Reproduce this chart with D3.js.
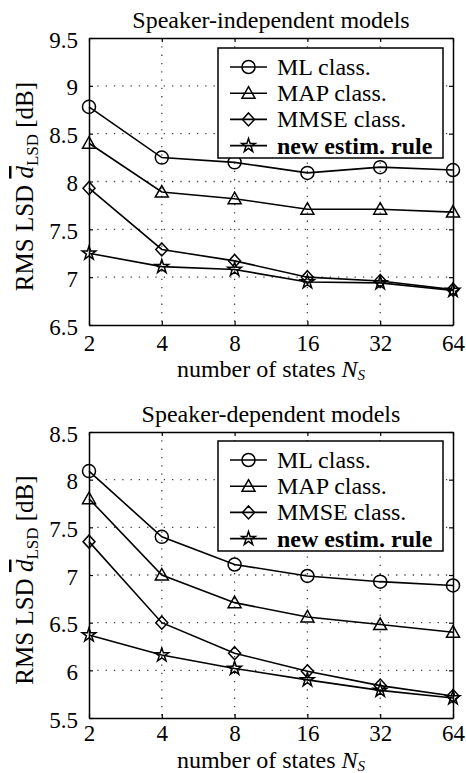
<html>
<head>
    <style>
        body { margin: 0; background: #fff; }
        text { font-family: "Liberation Serif", "Times New Roman", serif; fill: #000; }
    </style>
</head>
<body>
    <svg id="chart" width="466" height="773"></svg>

    <script src="https://d3js.org/d3.v7.min.js"></script>
    <script type="text/javascript">
        // number of states on the x axis (log2 spaced)
        const states = [2, 4, 8, 16, 32, 64];

        // speaker-independent models
        const indepML = [8.78, 8.25, 8.20, 8.09, 8.15, 8.12];
        const indepMAP = [8.40, 7.89, 7.82, 7.71, 7.71, 7.68];
        const indepMMSE = [7.93, 7.29, 7.17, 7.00, 6.96, 6.87];
        const indepNew = [7.25, 7.11, 7.08, 6.95, 6.94, 6.86];

        // speaker-dependent models
        const depML = [8.09, 7.40, 7.11, 6.99, 6.93, 6.89];
        const depMAP = [7.80, 7.00, 6.71, 6.56, 6.48, 6.40];
        const depMMSE = [7.35, 6.50, 6.18, 5.99, 5.84, 5.73];
        const depNew = [6.37, 6.16, 6.02, 5.90, 5.79, 5.71];

        const indepTicks = [6.5, 7, 7.5, 8, 8.5, 9, 9.5];
        const depTicks = [5.5, 6, 6.5, 7, 7.5, 8, 8.5];

        const seriesNames = ['ML class.', 'MAP class.', 'MMSE class.', 'new estim. rule'];
        const markerKinds = ['circle', 'triangle', 'diamond', 'star'];

        const svg = d3.select('#chart');

        // marker shapes, centred on 0,0
        function markerPath(kind) {
            if (kind === 'circle') return d3.symbol(d3.symbolCircle, 133)();
            if (kind === 'star') return d3.symbol(d3.symbolStar, 58)();
            if (kind === 'triangle') return 'M0,-6.5L6.5,5L-6.5,5Z';
            return 'M0,-6.5L6,0L0,6.5L-6,0Z';
        }

        function drawPanel(cfg) {
            const g = svg.append('g');
            const x = d3.scaleLog().base(2).domain([2, 64]).range([89, 453]);
            const y = d3.scaleLinear().domain([cfg.ticks[0], cfg.ticks[cfg.ticks.length - 1]])
                .range([cfg.bottom, cfg.top]);

            // dotted grid
            g.selectAll('.vgrid')
                .data(states.slice(1, -1))
                .enter()
                .append('line')
                .attr('x1', d => x(d)).attr('x2', d => x(d))
                .attr('y1', cfg.top).attr('y2', cfg.bottom)
                .attr('stroke', '#444').attr('stroke-width', 1.3)
                .attr('stroke-dasharray', '1.3,7');
            g.selectAll('.hgrid')
                .data(cfg.ticks.slice(1, -1))
                .enter()
                .append('line')
                .attr('y1', d => y(d)).attr('y2', d => y(d))
                .attr('x1', 89).attr('x2', 453)
                .attr('stroke', '#444').attr('stroke-width', 1.3)
                .attr('stroke-dasharray', '1.3,7');

            // axes with inward ticks on all four sides
            const xb = g.append('g').attr('transform', `translate(0,${cfg.bottom})`)
                .call(d3.axisBottom(x).tickValues(states).tickFormat(d3.format('d'))
                    .tickSizeInner(-4).tickSizeOuter(0));
            xb.selectAll('text').attr('y', 0).attr('dy', cfg.tickGap).style('font-size', '23px');
            g.append('g').attr('transform', `translate(0,${cfg.top})`)
                .call(d3.axisTop(x).tickValues(states).tickFormat('').tickSizeInner(-4).tickSizeOuter(0));

            const yl = g.append('g').attr('transform', 'translate(89,0)')
                .call(d3.axisLeft(y).tickValues(cfg.ticks).tickFormat(d3.format('')).tickSizeInner(-4).tickSizeOuter(0));
            yl.selectAll('text').attr('x', -11).attr('dy', 9).style('font-size', '23px');
            g.append('g').attr('transform', 'translate(453,0)')
                .call(d3.axisRight(y).tickValues(cfg.ticks).tickFormat('').tickSizeInner(-4).tickSizeOuter(0));

            g.selectAll('.domain').attr('stroke', '#000').attr('stroke-width', 1.5);
            g.selectAll('.tick line').attr('stroke', '#000').attr('stroke-width', 1.2);

            // data lines and markers
            const line = d3.line().x((d, i) => x(states[i])).y(d => y(d));
            cfg.series.forEach((vals, k) => {
                g.append('path')
                    .attr('d', line(vals))
                    .attr('fill', 'none').attr('stroke', '#000').attr('stroke-width', 1.6);
                g.selectAll('.m' + k)
                    .data(vals)
                    .enter()
                    .append('path')
                    .attr('transform', (d, i) => `translate(${x(states[i])},${y(d)})`)
                    .attr('d', markerPath(markerKinds[k]))
                    .attr('fill', 'none').attr('stroke', '#000').attr('stroke-width', 1.5);
            });

            // title
            g.append('text')
                .attr('x', 271).attr('y', cfg.top - 10)
                .attr('text-anchor', 'middle').style('font-size', '24px')
                .text(cfg.title);

            // x label
            const xlab = g.append('text')
                .attr('x', 271).attr('y', cfg.bottom + cfg.xlabGap)
                .attr('text-anchor', 'middle').style('font-size', '24px');
            xlab.append('tspan').text('number of states ');
            xlab.append('tspan').style('font-style', 'italic').text('N');
            xlab.append('tspan').attr('dy', 3).style('font-style', 'italic').style('font-size', '15px').text('S');

            // y label
            const ylab = g.append('text')
                .attr('transform', `translate(33,${(cfg.top + cfg.bottom) / 2 + 5}) rotate(-90)`)
                .attr('text-anchor', 'middle').style('font-size', '25px');
            ylab.append('tspan').text('RMS LSD ');
            ylab.append('tspan').style('font-style', 'italic').style('text-decoration', 'overline').text('d');
            ylab.append('tspan').attr('dy', 5).style('font-size', '17px').text('LSD');
            ylab.append('tspan').attr('dy', -5).text(' [dB]');

            // legend
            const lg = g.append('g');
            lg.append('rect')
                .attr('x', 218).attr('y', cfg.legendTop)
                .attr('width', 225).attr('height', 110)
                .attr('fill', '#fff').attr('stroke', '#000').attr('stroke-width', 1.5);
            seriesNames.forEach((name, k) => {
                const ry = cfg.legendTop + 19 + k * 26.2;
                lg.append('line')
                    .attr('x1', 230).attr('x2', 267).attr('y1', ry).attr('y2', ry)
                    .attr('stroke', '#000').attr('stroke-width', 1.6);
                lg.append('path')
                    .attr('transform', `translate(248.5,${ry})`)
                    .attr('d', markerPath(markerKinds[k]))
                    .attr('fill', 'none').attr('stroke', '#000').attr('stroke-width', 1.5);
                lg.append('text')
                    .attr('x', 277).attr('y', ry + 8)
                    .style('font-size', '24px')
                    .style('font-weight', k === 3 ? 'bold' : 'normal')
                    .text(name);
            });
        }

        drawPanel({
            title: 'Speaker-independent models',
            top: 38, bottom: 325, legendTop: 48, xlabGap: 52, tickGap: 26,
            ticks: indepTicks,
            series: [indepML, indepMAP, indepMMSE, indepNew]
        });
        drawPanel({
            title: 'Speaker-dependent models',
            top: 432, bottom: 718, legendTop: 441, xlabGap: 50, tickGap: 23,
            ticks: depTicks,
            series: [depML, depMAP, depMMSE, depNew]
        });
    </script>
</body>
</html>
